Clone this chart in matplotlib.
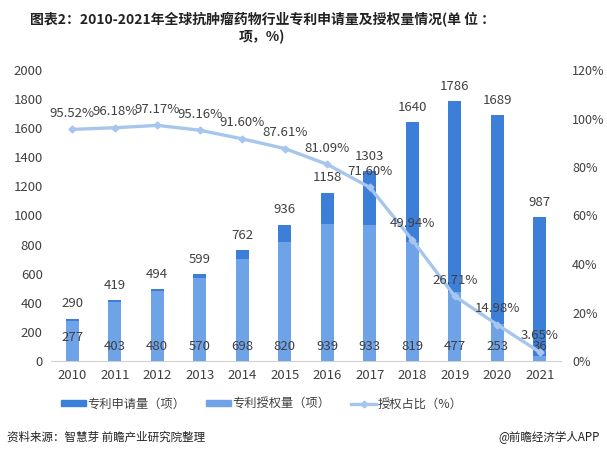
import matplotlib
matplotlib.use("Agg")
import matplotlib.pyplot as plt
import numpy as np
from matplotlib.lines import Line2D
from matplotlib.patches import Patch

plt.rcParams['font.family'] = ['Noto Sans CJK SC', 'DejaVu Sans']

years = ['2010', '2011', '2012', '2013', '2014', '2015', '2016', '2017', '2018', '2019', '2020', '2021']
applications = [290, 419, 494, 599, 762, 936, 1158, 1303, 1640, 1786, 1689, 987]
grants = [277, 403, 480, 570, 698, 820, 939, 933, 819, 477, 253, 36]
ratio = [95.52, 96.18, 97.17, 95.16, 91.60, 87.61, 81.09, 71.60, 49.94, 26.71, 14.98, 3.65]

title = '图表2：2010-2021年全球抗肿瘤药物行业专利申请量及授权量情况(单 位 ：\n项，%)'
legend_labels = ['专利申请量（项）', '专利授权量（项）', '授权占比（%）']
source = '资料来源：智慧芽 前瞻产业研究院整理'
credit = '@前瞻经济学人APP'

c_app = '#3c7fd9'
c_grant = '#6fa3e8'
c_line = '#a6c6ee'
txt = '#404040'

fig = plt.figure(figsize=(6.07, 4.57), dpi=100)
ax = fig.add_axes([51/607, 1-361/457, 510/607, 291/457])
ax2 = ax.twinx()

x = np.arange(len(years))
w = 0.31
ax.bar(x, applications, width=w, color=c_app, zorder=2)
ax.bar(x, grants, width=w, color=c_grant, zorder=3)

ax.set_ylim(0, 2000)
ax.set_yticks(range(0, 2001, 200))
ax.set_xlim(-0.5, len(years) - 0.5)
ax.set_xticks(x)
ax.set_xticklabels(years)
ax2.set_ylim(0, 120)
ax2.set_yticks(range(0, 121, 20))
ax2.set_yticklabels([f'{v}%' for v in range(0, 121, 20)])

for a in (ax, ax2):
    for s in a.spines.values():
        s.set_visible(False)
    a.tick_params(length=0, labelsize=9.5, colors=txt)
ax2.tick_params(axis='y', labelsize=9)
ax.spines['bottom'].set_visible(True)
ax.spines['bottom'].set_color('#d0d0d0')
ax.tick_params(axis='x', pad=6)
ax.tick_params(axis='y', pad=6)
ax2.tick_params(axis='y', pad=8)

for i in range(len(years)):
    ax.annotate(str(applications[i]), (x[i], applications[i]), xytext=(0, 6),
                textcoords='offset points', ha='center', va='bottom', fontsize=9.5, color=txt, zorder=6)
    ax.annotate(str(grants[i]), (x[i], 0), xytext=(0, 12 if i == 0 else 6),
                textcoords='offset points', ha='center', va='bottom', fontsize=9.5, color=txt, zorder=6)

ax2.plot(x, ratio, color=c_line, lw=2.4, marker='D', ms=3.5, zorder=5)
for i in range(len(years)):
    ax2.annotate(f'{ratio[i]:.2f}%', (x[i], ratio[i]), xytext=(0, 7),
                 textcoords='offset points', ha='center', va='bottom', fontsize=9.5, color=txt, zorder=6)
ax2.set_zorder(ax.get_zorder() + 1)
ax.patch.set_visible(False)

handles = [Patch(color=c_app), Patch(color=c_grant),
           Line2D([0], [0], color=c_line, lw=2.4, marker='D', ms=3.5)]
fig.legend(handles, legend_labels, loc='center', bbox_to_anchor=(262/607, 1-404/457), ncol=3,
           frameon=False, fontsize=8.8, handlelength=2.0, handleheight=0.45, handletextpad=0.15,
           columnspacing=1.7, labelcolor=txt)

fig.text(262/607, 1-28/457, title, ha='center', va='center', fontsize=10, fontweight='bold',
         color='#222222', linespacing=1.2)
fig.text(7/607, 1-437/457, source, ha='left', va='center', fontsize=8.3, color='#222222')
fig.text(600/607, 1-437/457, credit, ha='right', va='center', fontsize=8.3, color='#222222')

fig.savefig('out.png', dpi=100)
